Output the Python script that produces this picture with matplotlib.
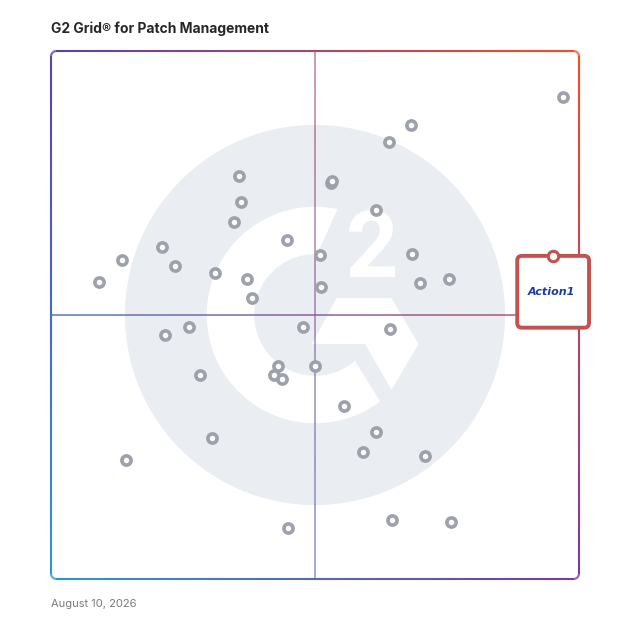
import numpy as np
import matplotlib
matplotlib.use("Agg")
import matplotlib.pyplot as plt
from matplotlib.collections import LineCollection
from matplotlib.patches import Circle, Polygon, FancyBboxPatch

# G2 grid positions (satisfaction on x, market presence on y, 0-100)
sat_x = [96.9, 68.2, 64.0, 35.6, 53.0, 53.3, 36.0, 61.6, 34.7, 44.7,
         21.0, 13.4, 50.9, 68.4, 23.5, 31.1, 37.1, 75.4, 9.1, 69.9,
         51.1, 38.1, 47.7, 26.1, 21.6, 64.2, 43.0, 50.0, 42.2, 43.8,
         28.2, 55.5, 61.6, 30.5, 59.1, 70.8, 14.2, 44.9, 64.6, 75.8]
mkt_y = [91.3, 86.0, 82.8, 76.3, 75.0, 75.4, 71.4, 69.9, 67.6, 64.2,
         62.9, 60.4, 61.4, 61.6, 59.3, 58.0, 56.8, 56.8, 56.2, 56.1,
         55.3, 53.2, 47.7, 47.7, 46.2, 47.3, 40.3, 40.3, 38.6, 37.8,
         38.6, 32.8, 27.8, 26.7, 24.1, 23.3, 22.5, 9.6, 11.2, 10.8]

featured_name = "Action1"
featured_x = 95.1
featured_y = 61.2

title = "G2 Grid® for Patch Management"
date_text = "August 10, 2026"

plt.rcParams['font.family'] = ['Inter', 'DejaVu Sans']

# corner colours of the gradient frame
c_tl = np.array([90, 63, 181]) / 255
c_tr = np.array([255, 75, 30]) / 255
c_bl = np.array([42, 152, 220]) / 255
c_br = np.array([123, 58, 160]) / 255


def grad_color(x, y):
    u = np.clip(x / 100.0, 0, 1)
    v = np.clip(y / 100.0, 0, 1)
    top = c_tl * (1 - u) + c_tr * u
    bot = c_bl * (1 - u) + c_br * u
    return top * v + bot * (1 - v)


def rounded_path(x0, y0, x1, y1, r, n=200):
    pts = []
    corners = [((x1 - r, y1 - r), 0, 90), ((x0 + r, y1 - r), 90, 180),
               ((x0 + r, y0 + r), 180, 270), ((x1 - r, y0 + r), 270, 360)]
    starts = [(x1, y0 + r), (x1 - r, y1), (x0, y1 - r), (x0 + r, y0)]
    for (c, a0, a1), s in zip(corners, starts):
        e = (c[0] + r * np.cos(np.radians(a0)), c[1] + r * np.sin(np.radians(a0)))
        for t in np.linspace(0, 1, n, endpoint=False):
            pts.append((s[0] + (e[0] - s[0]) * t, s[1] + (e[1] - s[1]) * t))
        for a in np.linspace(a0, a1, 12, endpoint=False):
            pts.append((c[0] + r * np.cos(np.radians(a)), c[1] + r * np.sin(np.radians(a))))
    pts.append(pts[0])
    return np.array(pts)


def gradient_line(ax, pts, lw, alpha=1.0, z=2):
    segs = np.stack([pts[:-1], pts[1:]], axis=1)
    mids = (pts[:-1] + pts[1:]) / 2
    cols = [(*grad_color(mx, my), alpha) for mx, my in mids]
    lc = LineCollection(segs, colors=cols, linewidths=lw, zorder=z,
                        capstyle='butt', clip_on=False)
    ax.add_collection(lc)


fig = plt.figure(figsize=(6.28, 6.28), dpi=100)
ax = fig.add_axes([51 / 628, 49 / 628, 528 / 628, 528 / 628])
ax.set_xlim(0, 100)
ax.set_ylim(0, 100)
ax.axis('off')

# background G2 logo
cx, cy = 50, 50
ax.add_patch(Circle((cx, cy), 36, facecolor='#eaedf1', edgecolor='none', zorder=0))
r_out, r_in = 20.5, 11.5
outer = [(cx + r_out * np.cos(np.radians(a)), cy + r_out * np.sin(np.radians(a)))
         for a in np.linspace(78, 307, 120)]
inner = [(cx + r_in * np.cos(np.radians(a)), cy + r_in * np.sin(np.radians(a)))
         for a in np.linspace(311, 88, 120)]
ax.add_patch(Polygon(outer + inner, closed=True, facecolor='white', edgecolor='none', zorder=0.5))
chev = [(cx + 4.1, cy + 3.2), (cx + 14.5, cy + 3.2), (cx + 19.6, cy - 5.5),
        (cx + 14.5, cy - 14.2), (cx + 9.5, cy - 5.5), (cx - 0.6, cy - 5.5)]
ax.add_patch(Polygon(chev, closed=True, facecolor='white', edgecolor='none', zorder=0.5))
ax.text(cx + 10.9, cy + 12.0, "2", color='white', fontsize=66, fontweight='bold',
        family='Roboto', ha='center', va='center', zorder=0.6)

# frame and quadrant lines
gradient_line(ax, rounded_path(0, 0, 100, 100, 1.0), lw=1.5, z=3)
vx = np.linspace(0, 100, 300)
gradient_line(ax, np.column_stack([np.full_like(vx, 50), vx]), lw=1.2, alpha=0.65, z=1)
gradient_line(ax, np.column_stack([vx, np.full_like(vx, 50)]), lw=1.2, alpha=0.85, z=1)

# vendors
ax.plot(sat_x, mkt_y, linestyle='none', marker='o', markersize=6.6,
        markerfacecolor='white', markeredgecolor='#9da1ab', markeredgewidth=2.6,
        zorder=4, clip_on=False)

# featured vendor card
box = FancyBboxPatch((featured_x - 6.8, featured_y - 13.6), 13.6, 13.6,
                     boxstyle='round,pad=0,rounding_size=0.9',
                     facecolor='white', edgecolor='#c1524f', linewidth=2.8,
                     zorder=5, clip_on=False)
ax.add_patch(box)
ax.plot([featured_x], [featured_y], linestyle='none', marker='o', markersize=7.5,
        markerfacecolor='white', markeredgecolor='#c1524f', markeredgewidth=2.2,
        zorder=6, clip_on=False)
ax.text(featured_x - 0.3, featured_y - 6.8, featured_name, color='#1b3da0',
        fontsize=8, fontweight='bold', fontstyle='italic', family='DejaVu Sans',
        ha='center', va='center', zorder=7)

fig.text(51 / 628, 1 - 29 / 628, title, fontsize=10, fontweight='bold',
         color='#262626', ha='left', va='center')
fig.text(51 / 628, 1 - 604 / 628, date_text, fontsize=8, color='#7a7a7a',
         ha='left', va='center')

fig.savefig("out.png", dpi=100)
